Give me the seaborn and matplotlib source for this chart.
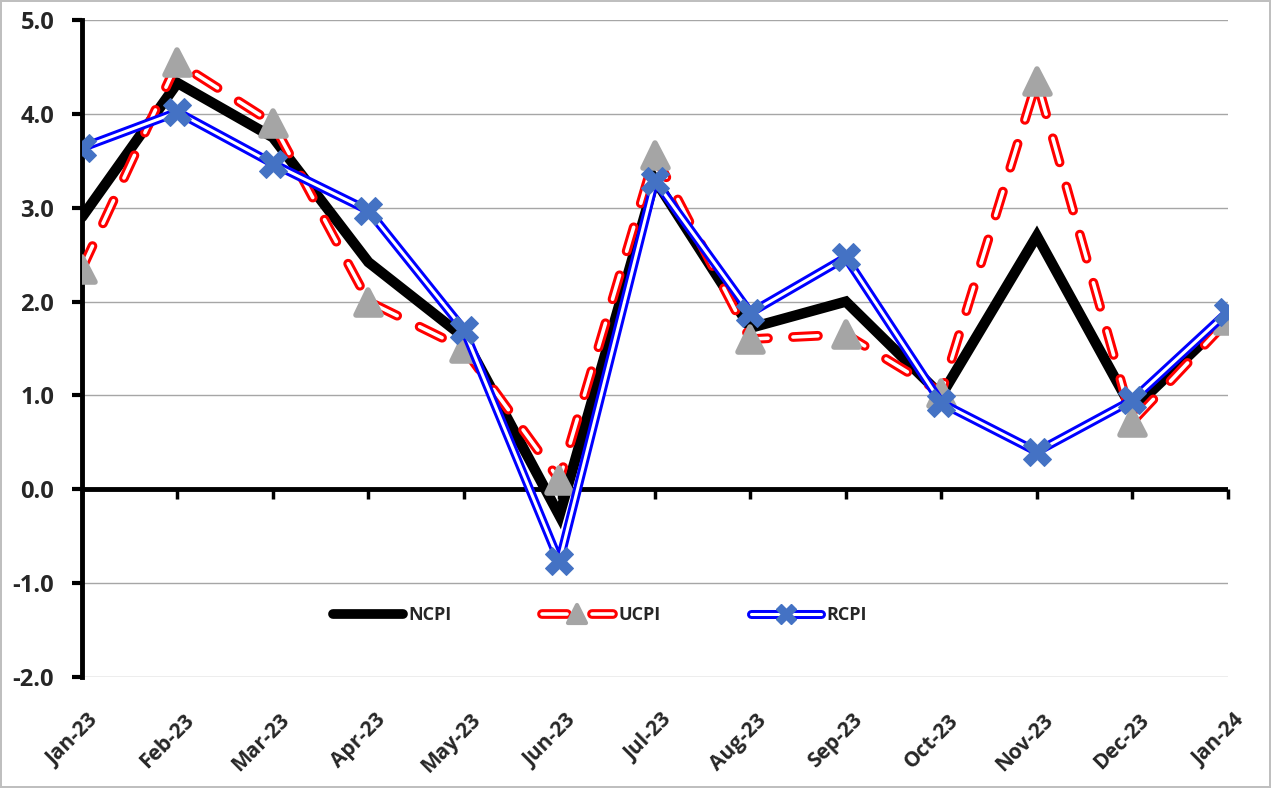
import pandas as pd
import seaborn as sns
import matplotlib.pyplot as plt
import matplotlib.transforms as mtransforms
from matplotlib.lines import Line2D
from matplotlib.markers import MarkerStyle

months = ['Jan-23', 'Feb-23', 'Mar-23', 'Apr-23', 'May-23', 'Jun-23', 'Jul-23',
          'Aug-23', 'Sep-23', 'Oct-23', 'Nov-23', 'Dec-23', 'Jan-24']
ncpi = [2.9, 4.33, 3.75, 2.42, 1.62, -0.28, 3.3, 1.72, 2.0, 1.0, 2.7, 0.85, 1.82]
ucpi = [2.35, 4.55, 3.9, 2.0, 1.5, 0.1, 3.56, 1.6, 1.65, 1.03, 4.35, 0.72, 1.8]
rcpi = [3.64, 4.02, 3.47, 2.97, 1.7, -0.77, 3.29, 1.88, 2.47, 0.92, 0.4, 0.95, 1.89]
yticks = [-2.0, -1.0, 0.0, 1.0, 2.0, 3.0, 4.0, 5.0]

sns.set_style('white')
plt.rcParams['font.family'] = ['Open Sans', 'DejaVu Sans']
plt.rcParams['font.weight'] = 'bold'
plt.rcParams['lines.scale_dashes'] = False

df = pd.DataFrame({'idx': range(len(months)), 'NCPI': ncpi, 'UCPI': ucpi, 'RCPI': rcpi})

fig = plt.figure(figsize=(12.71, 7.88), dpi=100)
fig.patch.set_edgecolor('#BFBFBF')
fig.patch.set_linewidth(1.5)
ax = fig.add_axes([0.0645, 0.141, 0.9015, 0.8335])

# horizontal grid
ax.set_ylim(-2, 5)
ax.set_yticks(yticks)
ax.yaxis.grid(True, color='#A6A6A6', lw=1)
ax.set_axisbelow(True)

# black zero line
ax.axhline(0, color='black', lw=3.5, zorder=2)

red_dash = (0, (18, 18))
tri = MarkerStyle('^', joinstyle='round')

# NCPI - thick black
sns.lineplot(data=df, x='idx', y='NCPI', ax=ax, color='black', lw=7.5,
             marker='D', markersize=3, markeredgecolor='black',
             solid_joinstyle='miter', zorder=3)

# UCPI - red dashed double line with grey triangles
sns.lineplot(data=df, x='idx', y='UCPI', ax=ax, color='red', lw=7,
             linestyle=red_dash, dash_capstyle='round', zorder=4)
sns.lineplot(data=df, x='idx', y='UCPI', ax=ax, color='white', lw=2.6,
             linestyle=red_dash, dash_capstyle='round', zorder=4)
sns.lineplot(data=df, x='idx', y='UCPI', ax=ax, lw=0, marker=tri, markersize=18,
             markerfacecolor='#A5A5A5', markeredgecolor='#A5A5A5',
             markeredgewidth=4, zorder=5)

# RCPI - blue double line with blue crosses
sns.lineplot(data=df, x='idx', y='RCPI', ax=ax, color='#0000FF', lw=6.5, zorder=6)
sns.lineplot(data=df, x='idx', y='RCPI', ax=ax, color='white', lw=2.2, zorder=6)
sns.lineplot(data=df, x='idx', y='RCPI', ax=ax, lw=0, marker='X', markersize=20,
             markerfacecolor='#4472C4', markeredgecolor='#4472C4', zorder=7)

ax.set_xlim(0, len(months) - 1)
ax.set_xticks(range(len(months)))
ax.set_xticklabels(months, rotation=45, ha='right', rotation_mode='anchor',
                   fontsize=15, fontweight='bold')
ax.tick_params(axis='x', length=0, pad=0)
shift = mtransforms.ScaledTranslation(0.06, -0.33, fig.dpi_scale_trans)
for lbl in ax.get_xticklabels():
    lbl.set_transform(lbl.get_transform() + shift)
ax.set_yticklabels([f'{v:.1f}' for v in yticks], fontsize=17, fontweight='bold')
ax.tick_params(axis='y', direction='out', length=7, width=3, color='black', pad=13, left=True)
ax.set_xlabel('')
ax.set_ylabel('')

for side in ['top', 'right', 'bottom']:
    ax.spines[side].set_visible(False)
ax.spines['left'].set_color('black')
ax.spines['left'].set_linewidth(3.5)

# category ticks on the zero line
zero_pos = (0 - ax.get_ylim()[0]) / (ax.get_ylim()[1] - ax.get_ylim()[0])
sec = ax.secondary_xaxis(zero_pos)
sec.set_xticks(range(len(months)))
sec.set_xticklabels([])
sec.tick_params(direction='out', length=7, width=2.5, color='black')
for side in sec.spines:
    sec.spines[side].set_visible(False)

# legend
h_ncpi = (Line2D([], [], color='black', lw=7, solid_capstyle='round'),
          Line2D([], [], lw=0, marker='D', markersize=3, color='black'))
h_ucpi = (Line2D([], [], color='red', lw=7, linestyle=red_dash, dash_capstyle='round'),
          Line2D([], [], color='white', lw=2.6, linestyle=red_dash, dash_capstyle='round'),
          Line2D([], [], lw=0, marker=tri, markersize=13, markeredgewidth=3, color='#A5A5A5'))
h_rcpi = (Line2D([], [], color='#0000FF', lw=6.5, solid_capstyle='round'),
          Line2D([], [], color='white', lw=2.2, solid_capstyle='round'),
          Line2D([], [], lw=0, marker='X', markersize=14, color='#4472C4'))
ax.legend([h_ncpi, h_ucpi, h_rcpi], ['NCPI', 'UCPI', 'RCPI'], loc='center',
          bbox_to_anchor=(0.452, 0.094), ncol=3, frameon=False,
          prop={'size': 13, 'weight': 'bold'}, handlelength=3.9,
          handletextpad=0.3, columnspacing=5)

plt.savefig('out.png', dpi=100, edgecolor=fig.get_edgecolor())
